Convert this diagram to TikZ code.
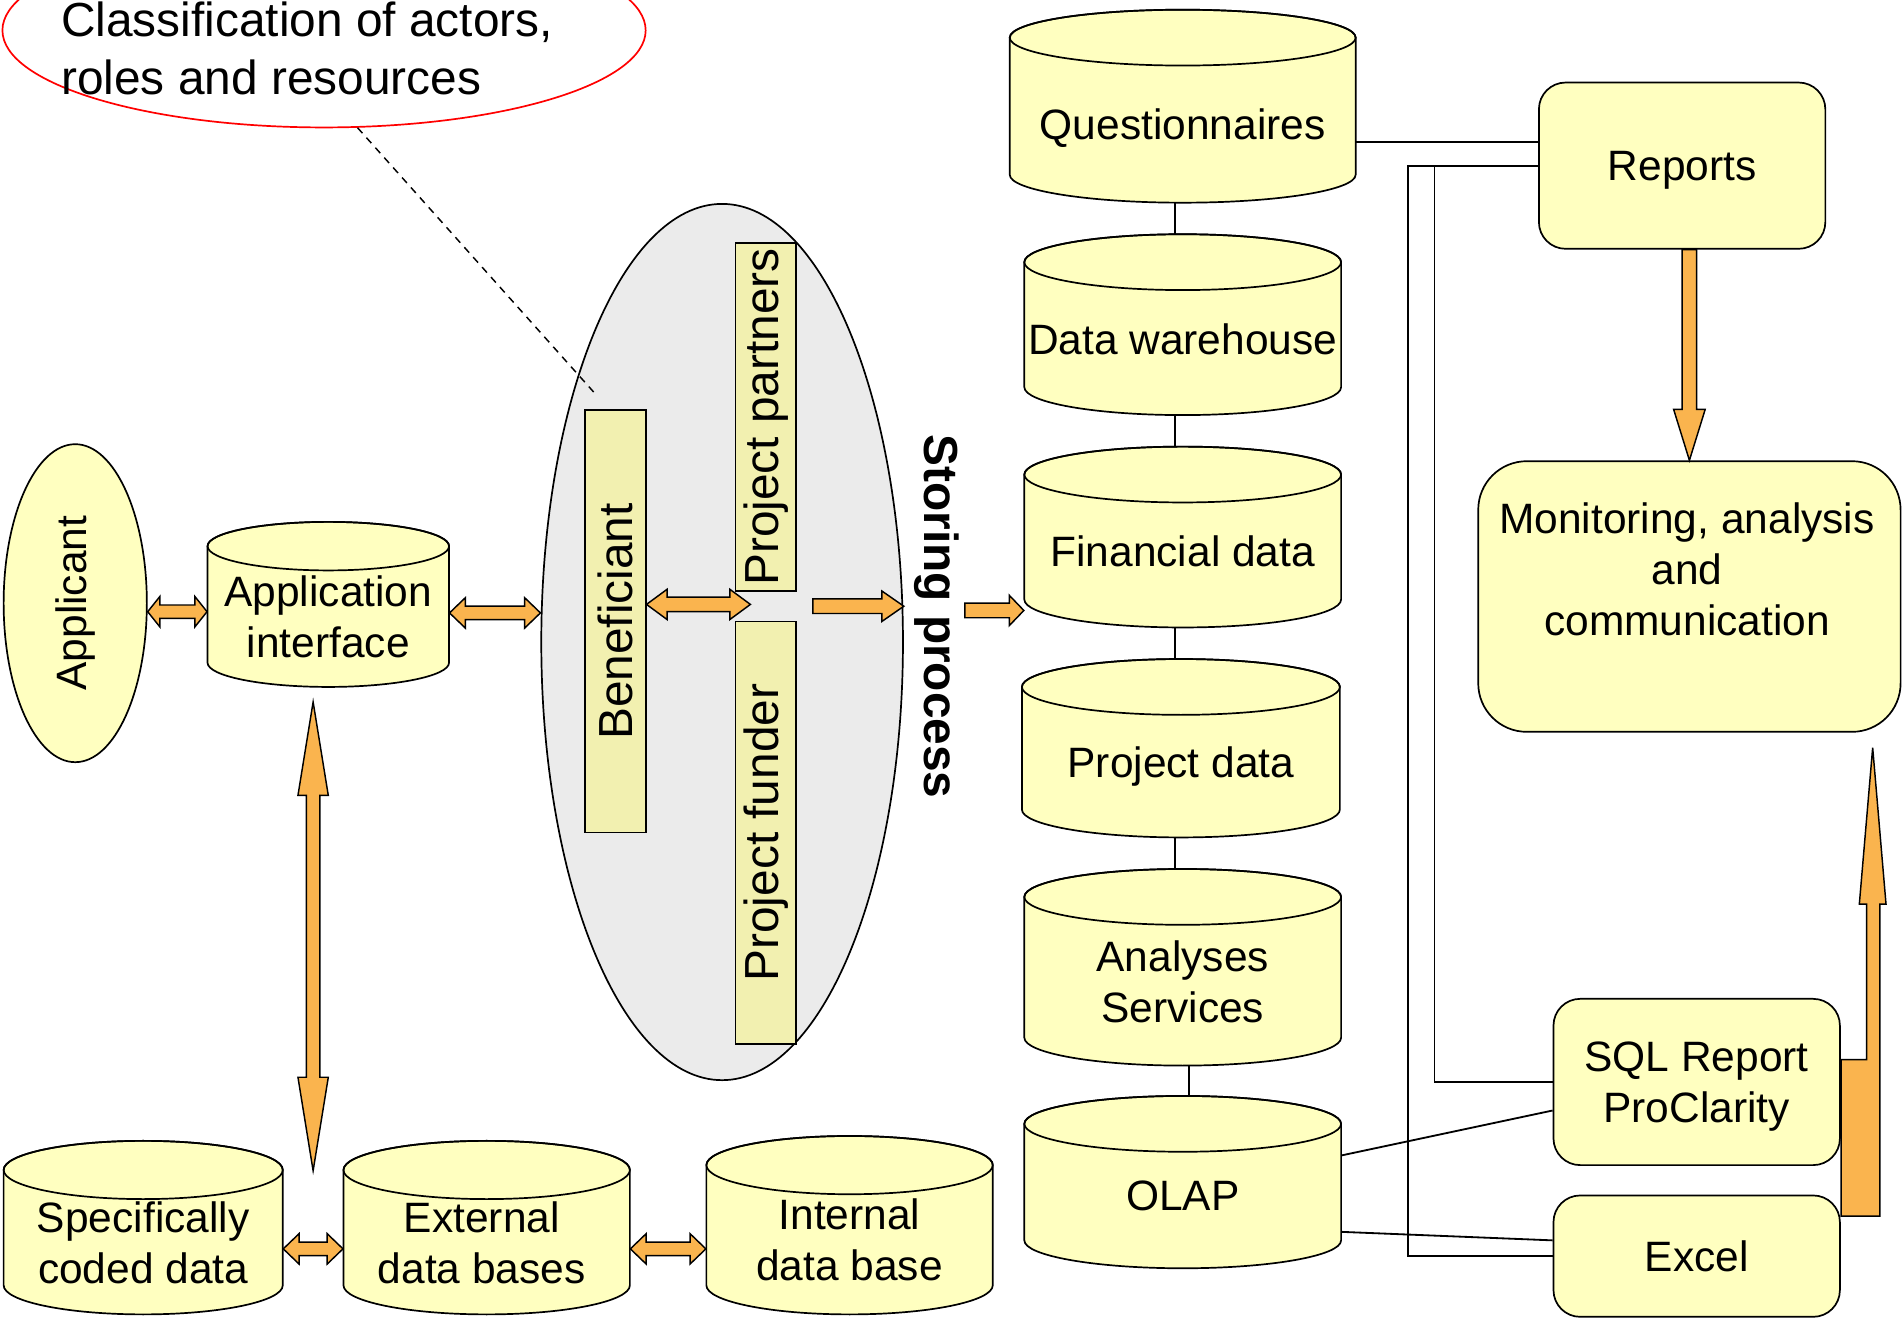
\documentclass[tikz,border=0pt]{standalone}
\usepackage{fontspec}
\setmainfont{Liberation Sans}
\usepackage{graphicx}
\usetikzlibrary{shapes.geometric,calc}
\definecolor{cylY}{HTML}{FFFFC0}
\definecolor{actY}{HTML}{F2F0B0}
\definecolor{grayE}{HTML}{EBEBEB}
\definecolor{orng}{HTML}{FAB44E}
\tikzset{
 outl/.style={draw=black, line width=0.7pt},
 cylbody/.style={fill=cylY, draw=black, line width=0.7pt},
 txt/.style={font=\fontsize{17.5}{21}\selectfont, align=center, inner sep=0pt, text depth=0pt},
 bigtxt/.style={font=\fontsize{19.7}{23.6}\selectfont, align=center, inner sep=0pt},
 blk/.style={fill=orng, draw=black, line width=0.6pt, line join=miter},
 conn/.style={draw=black, line width=0.75pt},
 rbox/.style={draw=black, line width=0.7pt, fill=cylY, rounded corners=11pt, inner sep=0pt},
 actor/.style={draw=black, line width=0.7pt, fill=actY, inner sep=0pt},
}
% cylinder: [text style], name, x1, top, x2, bottom, ry, text
\newcommand\dbcyl[8][]{%
 \pgfmathsetmacro\cylXm{(#3+#5)/2}%
 \pgfmathsetmacro\cylRx{(#5-#3)/4}%
 \pgfmathsetmacro\cylRy{#7/2}%
 \pgfmathsetmacro\cylYt{#4+#7}%
 \pgfmathsetmacro\cylYb{#6-#7}%
 \pgfmathsetmacro\cylYc{(#4+#6)/2}%
 \pgfmathsetmacro\cylTy{(#4+2*#7+#6-#7)/2}%
 \pgfmathsetmacro\cylW{(#5-#3)/2}%
 \pgfmathsetmacro\cylH{(#6-#4)/2}%
 \filldraw[cylbody] (#3,\cylYt) -- (#3,\cylYb) arc[start angle=180,end angle=360,x radius=\cylRx pt,y radius=\cylRy pt] -- (#5,\cylYt) arc[start angle=0,end angle=180,x radius=\cylRx pt,y radius=\cylRy pt] -- cycle;
 \draw[outl] (\cylXm,\cylYt) ellipse[x radius=\cylRx pt,y radius=\cylRy pt];
 \node[inner sep=0pt, minimum width=\cylW pt, minimum height=\cylH pt] (#2) at (\cylXm,\cylYc) {};
 \node[txt,#1] (#2-t) at (\cylXm,\cylTy) {#8};
}
% horizontal double block arrow: left tip, right tip, head length, shaft half, head half
\newcommand\hdarrow[5]{%
 \draw[blk] let \p1=(#1), \p2=(#2) in
 (\x1,\y1) -- ({\x1+#3},{\y1+#5}) -- ({\x1+#3},{\y1+#4}) -- ({\x2-#3},{\y1+#4}) -- ({\x2-#3},{\y1+#5}) -- (\x2,\y1) -- ({\x2-#3},{\y1-#5}) -- ({\x2-#3},{\y1-#4}) -- ({\x1+#3},{\y1-#4}) -- ({\x1+#3},{\y1-#5}) -- cycle;}
% horizontal single block arrow pointing right: tail, tip
\newcommand\harrow[5]{%
 \draw[blk] let \p1=(#1), \p2=(#2) in
 (\x1,{\y1+#4}) -- ({\x2-#3},{\y1+#4}) -- ({\x2-#3},{\y1+#5}) -- (\x2,\y1) -- ({\x2-#3},{\y1-#5}) -- ({\x2-#3},{\y1-#4}) -- (\x1,{\y1-#4}) -- cycle;}
% vertical double block arrow: top tip, bottom tip
\newcommand\vdarrow[5]{%
 \draw[blk] let \p1=(#1), \p2=(#2) in
 (\x1,\y1) -- ({\x1+#5},{\y1-#3}) -- ({\x1+#4},{\y1-#3}) -- ({\x1+#4},{\y2+#3}) -- ({\x1+#5},{\y2+#3}) -- (\x1,\y2) -- ({\x1-#5},{\y2+#3}) -- ({\x1-#4},{\y2+#3}) -- ({\x1-#4},{\y1-#3}) -- ({\x1-#5},{\y1-#3}) -- cycle;}
% vertical single block arrow pointing down: tail (top), tip (bottom)
\newcommand\varrow[5]{%
 \draw[blk] let \p1=(#1), \p2=(#2) in
 ({\x2-#4},\y1) -- ({\x2-#4},{\y2+#3}) -- ({\x2-#5},{\y2+#3}) -- (\x2,\y2) -- ({\x2+#5},{\y2+#3}) -- ({\x2+#4},{\y2+#3}) -- ({\x2+#4},\y1) -- cycle;}
\begin{document}
\begin{tikzpicture}[x=0.5pt, y=-0.5pt]
\useasboundingbox (0,0) rectangle (1568,1087);
\clip (0,0) rectangle (1568,1087);

% classification callout
\node[ellipse, draw=red, line width=0.7pt, minimum width=265pt, minimum height=80pt, inner sep=0pt] (cls) at (267,25) {};
\node[bigtxt, align=left, anchor=west] (clstxt) at (50,40) {Classification of actors,\\roles and resources};

% applicant
\node[ellipse, outl, fill=cylY, minimum width=59pt, minimum height=131pt, inner sep=0pt, txt] (applicant) at (62,497) {\rotatebox{90}{Applicant}};

% roles ellipse
\node[ellipse, outl, fill=grayE, minimum width=149pt, minimum height=361pt, inner sep=0pt] (roles) at (595,529) {};
\node[actor, bigtxt, minimum width=25pt, minimum height=174pt] (benef) at (507,512) {\rotatebox{90}{Beneficiant}};
\node[actor, bigtxt, minimum width=25pt, minimum height=143.5pt] (partners) at (631,343.5) {\rotatebox{90}{Project partners}};
\node[actor, bigtxt, minimum width=25pt, minimum height=174pt] (funder) at (631,686) {\rotatebox{90}{Project funder}};
\draw[line width=0.6pt, dash pattern=on 3pt off 2.5pt] (cls.-71) -- ([shift={(9,-13)}]benef.north west);

% storing process
\node[inner sep=0pt, font=\fontsize{19.7}{23.6}\selectfont\bfseries] (storing) at (772,508) {\rotatebox{-90}{Storing process}};

% cylinders
\dbcyl{ai}{171}{430}{370}{566}{20}{Application\\interface}
\dbcyl[yshift=-1.5pt]{q}{832}{8}{1117}{167}{23}{Questionnaires}
\dbcyl{dw}{844}{193}{1105}{342}{23}{Data warehouse}
\dbcyl{fin}{844}{368}{1105}{517}{23}{Financial data}
\dbcyl{pd}{842}{543}{1104}{690}{23}{Project data}
\dbcyl{an}{844}{716}{1105}{878}{23}{Analyses\\ Services}
\dbcyl{olap}{844}{903}{1105}{1045}{23}{OLAP}
\dbcyl{spec}{3}{940}{233}{1083}{24}{Specifically\\coded data}
\dbcyl[xshift=-2pt]{ext}{283}{940}{519}{1083}{24}{External\\data bases}
\dbcyl{int}{582}{936}{818}{1083}{24}{Internal\\data base}

% right boxes
\node[rbox, txt, minimum width=118pt, minimum height=68.5pt] (rep) at (1386,136.5) {Reports};
\node[rbox, rounded corners=20pt, minimum width=174pt, minimum height=111.5pt] (mon) at (1392,491.5) {};
\node[txt] (mon-t) at (1390,469) {Monitoring, analysis\\and\\communication};
\node[rbox, txt, minimum width=118pt, minimum height=68.5pt] (sql) at (1398,891.5) {SQL Report\\ProClarity};
\node[rbox, txt, minimum width=118pt, minimum height=50pt] (excel) at (1398,1035) {Excel};

% thin connectors
\draw[conn] ([xshift=-3.25pt]q.south) -- ([xshift=-3.25pt]q.south |- dw.north);
\draw[conn] ([xshift=-3.25pt]dw.south) -- ([xshift=-3.25pt]dw.south |- fin.north);
\draw[conn] ([xshift=-3.25pt]fin.south) -- ([xshift=-3.25pt]fin.south |- pd.north);
\draw[conn] ([xshift=-2.5pt]pd.south) -- ([xshift=-2.5pt]pd.south |- an.north);
\draw[conn] ([xshift=2.75pt]an.south) -- ([xshift=2.75pt]an.south |- olap.north);
\coordinate (qa) at ([yshift=9.75pt]rep.west);
\draw[conn] (qa) -- (qa -| q.east);
\coordinate (b1) at (1160,136.5);
\coordinate (b2) at (1182,136.5);
\draw[conn] (rep.west) -- (b1) |- (excel.west);
\draw[conn] (b2) |- (sql.west);
\draw[conn] ([yshift=11pt]olap.east) -- ([yshift=-11.75pt]sql.west);
\draw[conn] ([yshift=-20.5pt]olap.east) -- ([yshift=6.5pt]excel.west);

% block arrows
\hdarrow{[yshift=-3.5pt]applicant.east}{ai.west}{5pt}{2.75pt}{6.25pt}
\hdarrow{[yshift=-3.5pt]ai.east}{roles.west}{6.5pt}{2.75pt}{6.25pt}
\coordinate (bgap) at ($(partners.south west)!0.5!(funder.north west)+(13,0)$);
\coordinate (sgap) at ($(partners.south east)!0.5!(funder.north east)+(13,0)$);
\hdarrow{[yshift=7pt]benef.east}{bgap}{8.5pt}{3pt}{6.25pt}
\harrow{sgap}{roles.east}{9pt}{3pt}{6.25pt}
\coordinate (stail) at (795,503);
\harrow{stail}{fin.west}{6pt}{3pt}{6.25pt}
\coordinate (vtop) at ([xshift=-6.25pt,yshift=-6pt]ai.south);
\coordinate (vbot) at ($(spec.north east)!0.5!(ext.north west)+(0,25)$);
\vdarrow{vtop}{vbot}{38.5pt}{2.75pt}{6.25pt}
\hdarrow{[yshift=-8.75pt]spec.east}{ext.west}{6.5pt}{2.75pt}{6.25pt}
\hdarrow{[yshift=-8.75pt]ext.east}{int.west}{6.5pt}{2.75pt}{6.25pt}
\varrow{rep.south}{mon.north}{21pt}{3pt}{6.5pt}
\draw[blk] (1517,873) -- (1538,873) -- (1538,745) -- (1532,745) -- (1543,616) -- (1554,745) -- (1549,745) -- (1549,1002) -- (1517,1002) -- cycle;
\end{tikzpicture}
\end{document}
